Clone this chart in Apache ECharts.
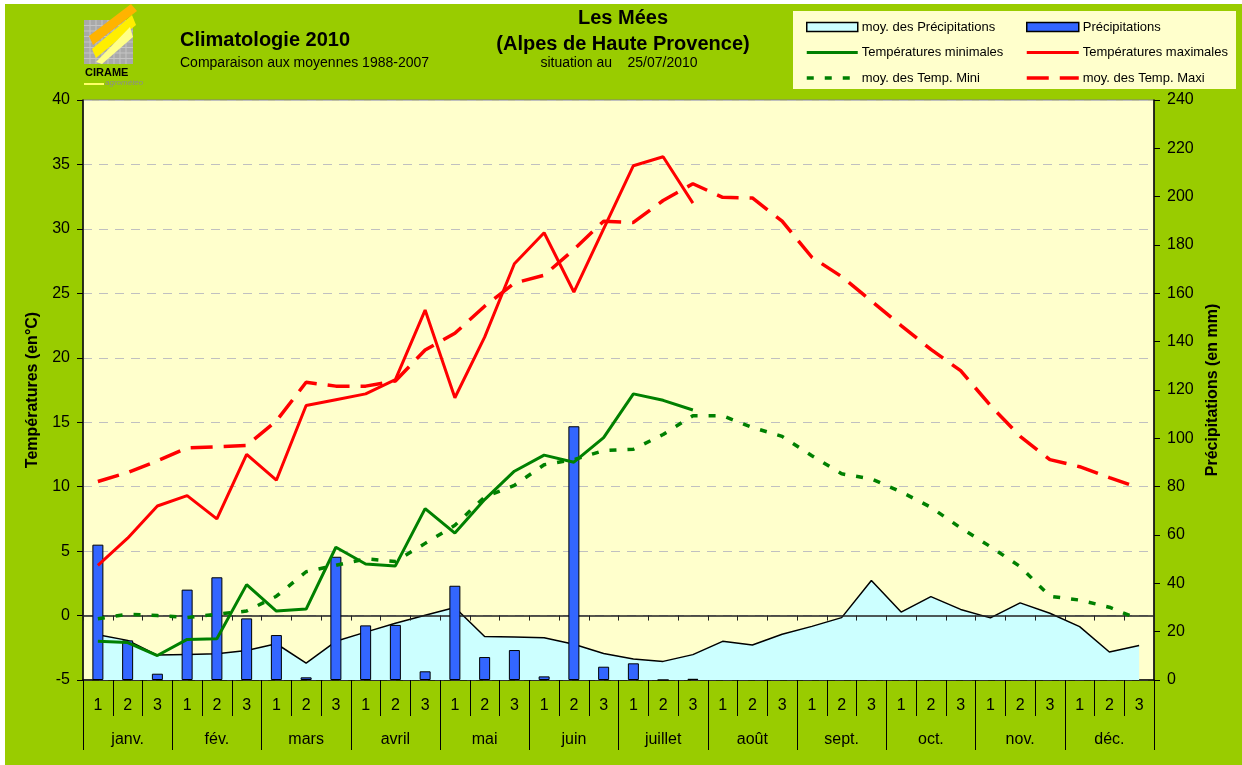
<!DOCTYPE html>
<html>
<head>
<meta charset="utf-8">
<title>Climatologie 2010 - Les Mées</title>
<script src="https://cdn.jsdelivr.net/npm/echarts/dist/echarts.min.js"></script>
<style>
    html, body { margin: 0; padding: 0; background: #fff; }
    #chart { width: 1242px; height: 765px; }
</style>
</head>
<body>
<div id="chart"></div>
<script>
// décades (1, 2, 3) de chaque mois
const decades = [
    '1', '2', '3', '1', '2', '3', '1', '2', '3', '1', '2', '3',
    '1', '2', '3', '1', '2', '3', '1', '2', '3', '1', '2', '3',
    '1', '2', '3', '1', '2', '3', '1', '2', '3', '1', '2', '3'
];
const months = ['janv.', 'fév.', 'mars', 'avril', 'mai', 'juin', 'juillet', 'août', 'sept.', 'oct.', 'nov.', 'déc.'];

// précipitations 2010 (mm) - jusqu'au 25/07
const precip2010 = [56, 16.4, 2.6, 37.4, 42.5, 25.5, 18.6, 1.1, 51, 22.6, 22.8, 3.6, 39, 9.5, 12.4, 1.5, 105, 5.5, 6.9, 0, 0.5];
// moyenne des précipitations 1988-2007 (mm)
const precipAvg = [18.7, 16.4, 10.3, 10.6, 10.9, 12.2, 15, 7, 16, 19.8, 23.5, 26.8, 30, 18, 17.8, 17.5, 14.8, 11,
    8.7, 7.7, 10.5, 16, 14.5, 18.9, 22.2, 25.8, 41.2, 28.1, 34.5, 29.2, 25.7, 31.9, 27.6, 22.1, 11.6, 14.3];

// températures 2010 (°C)
const tmin2010 = [-2.0, -2.1, -3.1, -1.85, -1.8, 2.4, 0.35, 0.5, 5.3, 4.0, 3.85, 8.3, 6.4, 9.0, 11.2, 12.45, 11.9, 13.8, 17.2, 16.7, 15.95];
const tmax2010 = [3.9, 6.0, 8.5, 9.3, 7.5, 12.5, 10.5, 16.3, 16.75, 17.2, 18.3, 23.7, 16.9, 21.6, 27.3, 29.7, 25.1, 30.0, 34.9, 35.6, 32.0];

// moyennes 1988-2007 (°C)
const tminAvg = [-0.25, 0.1, 0.0, -0.15, 0.1, 0.35, 1.5, 3.4, 3.9, 4.4, 4.2, 5.6, 7.0, 9.2, 10.1, 11.7, 12.1, 12.8,
    12.9, 14.05, 15.5, 15.5, 14.6, 13.9, 12.4, 11.0, 10.6, 9.6, 8.4, 6.8, 5.35, 3.8, 1.5, 1.2, 0.65, -0.3];
const tmaxAvg = [10.4, 11.1, 12.0, 13.0, 13.1, 13.2, 15.1, 18.1, 17.8, 17.8, 18.2, 20.6, 21.9, 24.0, 25.8, 26.4, 28.4, 30.6,
    30.5, 32.2, 33.5, 32.45, 32.4, 30.6, 27.8, 26.3, 24.4, 22.5, 20.65, 19.0, 16.3, 13.9, 12.1, 11.55, 10.7, 9.9];

const FONT = 'Liberation Sans, Arial, sans-serif';

// petit logo (décor)
let logo = [
    { type: 'rect', shape: { x: 84, y: 20, width: 49, height: 44 }, style: { fill: '#a9a9a9' } }
];
for (let k = 1; k < 8; k++) {
    logo.push({ type: 'line', shape: { x1: 84 + k * 6, y1: 20, x2: 84 + k * 6, y2: 64 }, style: { stroke: '#c4c4c4', lineWidth: 1 } });
    logo.push({ type: 'line', shape: { x1: 84, y1: 20 + k * 5.5, x2: 133, y2: 20 + k * 5.5 }, style: { stroke: '#c4c4c4', lineWidth: 1 } });
}
logo = logo.concat([
    { type: 'polygon', shape: { points: [[89, 36], [131, 4], [137, 11], [93, 45]] }, style: { fill: '#ffb300' } },
    { type: 'polygon', shape: { points: [[92, 49], [132, 15], [136, 25], [96, 58]] }, style: { fill: '#ffee00' } },
    { type: 'polygon', shape: { points: [[96, 62], [130, 27], [133, 37], [102, 64]] }, style: { fill: '#ffff88' } },
    { type: 'text', style: { text: 'CIRAME', x: 85, y: 73, font: 'bold 11px ' + FONT, fill: '#000', verticalAlign: 'middle' } },
    { type: 'text', style: { text: 'agrométéo', x: 105, y: 83, font: 'italic 8px ' + FONT, fill: '#8c8c8c', verticalAlign: 'middle' } },
    { type: 'rect', shape: { x: 84, y: 83, width: 20, height: 2 }, style: { fill: '#ffff66' } }
]);

const titles = [
    { type: 'text', style: { text: 'Climatologie 2010', x: 180, y: 40, font: 'bold 20px ' + FONT, fill: '#000', verticalAlign: 'middle' } },
    { type: 'text', style: { text: 'Comparaison aux moyennes 1988-2007', x: 180, y: 63, font: '14px ' + FONT, fill: '#000', verticalAlign: 'middle' } },
    { type: 'text', style: { text: 'Les Mées', x: 623, y: 18, font: 'bold 20px ' + FONT, fill: '#000', align: 'center', verticalAlign: 'middle' } },
    { type: 'text', style: { text: '(Alpes de Haute Provence)', x: 623, y: 44, font: 'bold 20px ' + FONT, fill: '#000', align: 'center', verticalAlign: 'middle' } },
    { type: 'text', style: { text: 'situation au    25/07/2010', x: 619, y: 63, font: '14px ' + FONT, fill: '#000', align: 'center', verticalAlign: 'middle' } }
];

// pas de rond au milieu des icônes de ligne
const noSymbol = { opacity: 0 };

const chart = echarts.init(document.getElementById('chart'));

let option = {
    animation: false,
    backgroundColor: '#ffffff',
    textStyle: { fontFamily: FONT },
    graphic: [
        // fond vert
        { type: 'rect', z: -1, shape: { x: 5, y: 4, width: 1237, height: 761 }, style: { fill: '#99cc00' } },
        // cadre de la légende
        { type: 'rect', shape: { x: 793, y: 11, width: 443, height: 78 }, style: { fill: '#ffffcc' } }
    ].concat(logo, titles),
    legend: [
        {
            orient: 'vertical',
            left: 805,
            top: 19,
            padding: 0,
            itemWidth: 51,
            itemHeight: 9,
            itemGap: 9.5,
            textStyle: { fontSize: 13, color: '#000', lineHeight: 16, padding: [0, 0, 0, -1] },
            data: [
                { name: 'moy. des Précipitations', icon: 'rect', itemStyle: { color: '#ccffff', borderColor: '#000', borderWidth: 1.5 } },
                { name: 'Températures minimales', itemStyle: noSymbol, lineStyle: { width: 3 } },
                { name: 'moy. des Temp. Mini', itemStyle: noSymbol, lineStyle: { width: 3.5 } }
            ]
        },
        {
            orient: 'vertical',
            left: 1025,
            top: 19,
            padding: 0,
            itemWidth: 52,
            itemHeight: 9,
            itemGap: 9.5,
            textStyle: { fontSize: 13, color: '#000', lineHeight: 16, padding: [0, 0, 0, -1] },
            data: [
                { name: 'Précipitations', icon: 'rect', itemStyle: { color: '#3366ff', borderColor: '#000', borderWidth: 1.5 } },
                { name: 'Températures maximales', itemStyle: noSymbol, lineStyle: { width: 3 } },
                { name: 'moy. des Temp. Maxi', itemStyle: noSymbol, lineStyle: { width: 3.5 } }
            ]
        }
    ],
    grid: {
        left: 83,
        right: 88,
        top: 100,
        bottom: 85,
        show: true,
        backgroundColor: '#ffffcc',
        borderColor: '#808080',
        borderWidth: 1,
        outerBoundsMode: 'none'
    },
    xAxis: [
        {
            // décades
            type: 'category',
            data: decades,
            position: 'bottom',
            axisLine: { onZero: false, lineStyle: { color: '#000', width: 1.5 } },
            axisTick: { show: true, interval: 0, length: 36, lineStyle: { color: '#000', width: 1 } },
            axisLabel: { interval: 0, margin: 18, fontSize: 16, color: '#000' },
            splitLine: { show: false }
        },
        {
            // mois
            type: 'category',
            data: months,
            position: 'bottom',
            axisLine: { show: false, onZero: false },
            axisTick: { show: true, interval: 0, length: 70, lineStyle: { color: '#000', width: 1 } },
            axisLabel: { interval: 0, margin: 52, fontSize: 16, color: '#000' },
            splitLine: { show: false }
        },
        {
            // axe à 0 °C
            type: 'category',
            data: decades,
            position: 'bottom',
            z: 3,
            axisLine: { onZero: true, onZeroAxisIndex: 0, lineStyle: { color: '#222', width: 1.5 } },
            axisTick: { show: true, interval: 0, length: 5, lineStyle: { color: '#222' } },
            axisLabel: { show: false },
            splitLine: { show: false }
        }
    ],
    yAxis: [
        {
            type: 'value',
            min: -5,
            max: 40,
            interval: 5,
            position: 'left',
            name: 'Températures (en°C)',
            nameLocation: 'middle',
            nameRotate: 90,
            nameGap: 42,
            nameTextStyle: { fontWeight: 'bold', fontSize: 16, color: '#000' },
            axisLine: { show: true, onZero: false, lineStyle: { color: '#000', width: 1.5 } },
            axisTick: { show: true, length: 6, lineStyle: { color: '#000' } },
            axisLabel: { fontSize: 16, color: '#000', margin: 13 },
            splitLine: { show: true, lineStyle: { color: '#c0c0c0', type: [9, 7] } }
        },
        {
            type: 'value',
            min: 0,
            max: 240,
            interval: 20,
            position: 'right',
            name: 'Précipitations (en mm)',
            nameLocation: 'middle',
            nameRotate: 90,
            nameGap: 50,
            nameTextStyle: { fontWeight: 'bold', fontSize: 16, color: '#000' },
            axisLine: { show: true, onZero: false, lineStyle: { color: '#000', width: 1.5 } },
            axisTick: { show: true, length: 6, lineStyle: { color: '#000' } },
            axisLabel: { fontSize: 16, color: '#000', margin: 13 },
            splitLine: { show: false }
        }
    ],
    series: [
        {
            name: 'moy. des Précipitations',
            type: 'line',
            xAxisIndex: 0,
            yAxisIndex: 1,
            data: precipAvg,
            symbol: 'none',
            z: 2,
            itemStyle: { color: '#ccffff' },
            lineStyle: { color: '#000', width: 1.5 },
            areaStyle: { color: '#ccffff', opacity: 1 }
        },
        {
            name: 'Précipitations',
            type: 'bar',
            xAxisIndex: 0,
            yAxisIndex: 1,
            data: precip2010,
            barWidth: 11,
            z: 4,
            itemStyle: { color: '#3366ff', borderColor: '#000', borderWidth: 1 }
        },
        {
            name: 'Températures minimales',
            type: 'line',
            xAxisIndex: 0,
            yAxisIndex: 0,
            data: tmin2010,
            symbol: 'none',
            z: 5,
            itemStyle: { color: '#008000' },
            lineStyle: { color: '#008000', width: 3 }
        },
        {
            name: 'Températures maximales',
            type: 'line',
            xAxisIndex: 0,
            yAxisIndex: 0,
            data: tmax2010,
            symbol: 'none',
            z: 5,
            itemStyle: { color: '#ff0000' },
            lineStyle: { color: '#ff0000', width: 3 }
        },
        {
            name: 'moy. des Temp. Mini',
            type: 'line',
            xAxisIndex: 0,
            yAxisIndex: 0,
            data: tminAvg,
            symbol: 'none',
            z: 5,
            itemStyle: { color: '#008000' },
            lineStyle: { color: '#008000', width: 3.5, type: [7, 11] }
        },
        {
            name: 'moy. des Temp. Maxi',
            type: 'line',
            xAxisIndex: 0,
            yAxisIndex: 0,
            data: tmaxAvg,
            symbol: 'none',
            z: 5,
            itemStyle: { color: '#ff0000' },
            lineStyle: { color: '#ff0000', width: 3.5, type: [22, 11] }
        }
    ]
};

chart.setOption(option);
</script>
</body>
</html>
